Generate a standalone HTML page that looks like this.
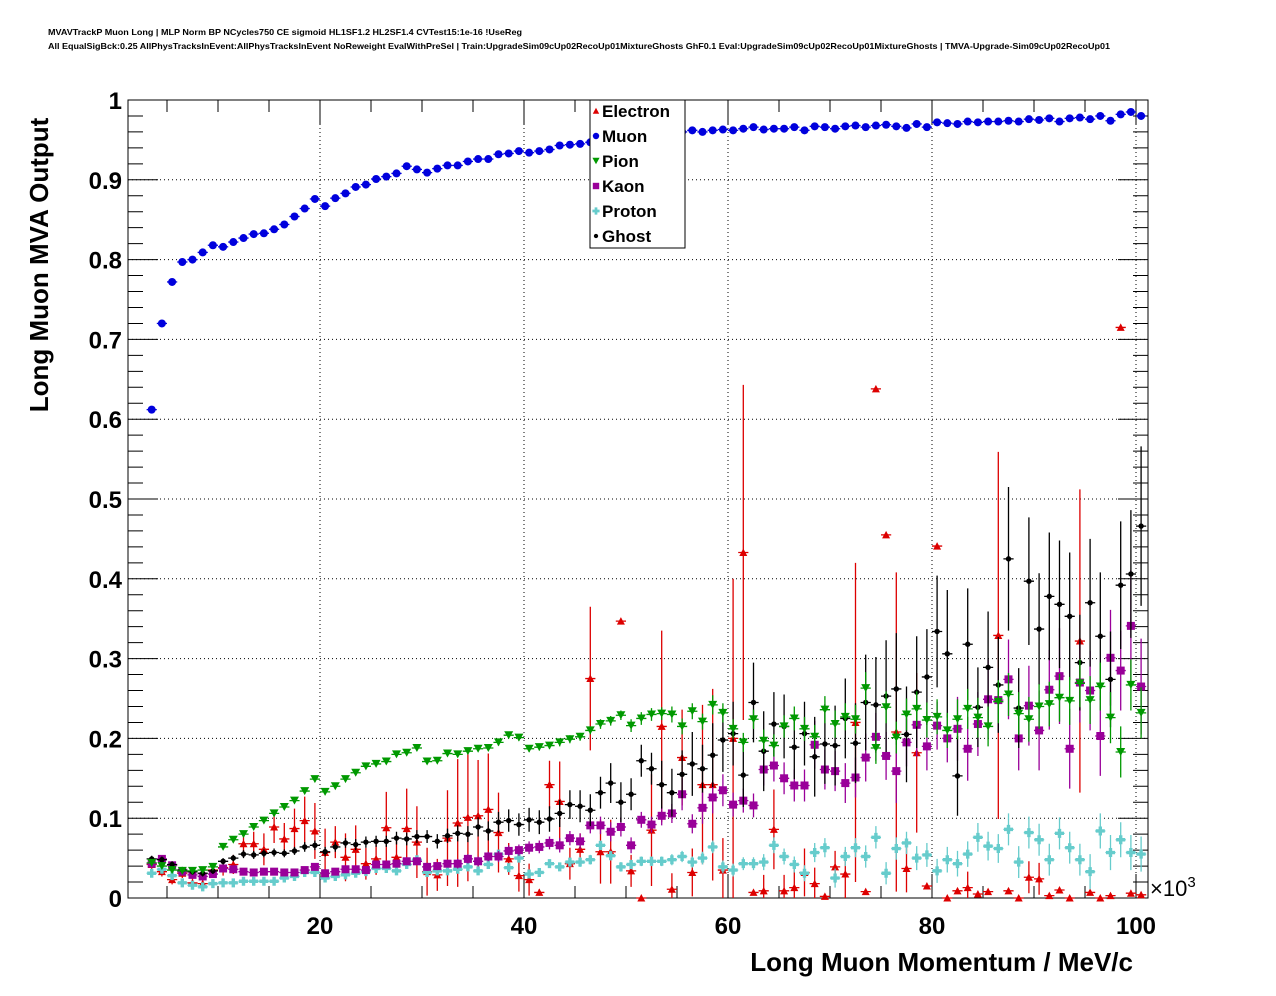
<!DOCTYPE html>
<html><head><meta charset="utf-8"><style>
html,body{margin:0;padding:0;background:#fff;}
svg{display:block;font-family:"Liberation Sans",Arial,sans-serif;}
</style></head><body>
<svg id="chart" width="1276" height="996" viewBox="0 0 1276 996" xmlns="http://www.w3.org/2000/svg">
<rect x="0" y="0" width="1276" height="996" fill="#fff"/>
<text x="48" y="35" font-size="8.5" font-weight="bold" textLength="474" lengthAdjust="spacingAndGlyphs">MVAVTrackP Muon Long | MLP Norm BP NCycles750 CE sigmoid HL1SF1.2 HL2SF1.4 CVTest15:1e-16 !UseReg</text>
<text x="48" y="49" font-size="8.5" font-weight="bold" textLength="1062" lengthAdjust="spacingAndGlyphs">All EqualSigBck:0.25 AllPhysTracksInEvent:AllPhysTracksInEvent NoReweight EvalWithPreSel | Train:UpgradeSim09cUp02RecoUp01MixtureGhosts GhF0.1 Eval:UpgradeSim09cUp02RecoUp01MixtureGhosts | TMVA-Upgrade-Sim09cUp02RecoUp01</text>
<g id="grid"></g>
<g id="axes"></g>
<g id="marks"></g>
<text transform="translate(48,265) rotate(-90)" text-anchor="middle" font-size="26" font-weight="bold">Long Muon MVA Output</text>
<text x="1133" y="971" text-anchor="end" font-size="26" font-weight="bold">Long Muon Momentum / MeV/c</text>
<text x="1150" y="896" font-size="22">×10<tspan font-size="15" dy="-9">3</tspan></text>
<g id="legend"></g>
</svg>
<script>
const binCenters=[3.5,4.5,5.5,6.5,7.5,8.5,9.5,10.5,11.5,12.5,13.5,14.5,15.5,16.5,17.5,18.5,19.5,20.5,21.5,22.5,23.5,24.5,25.5,26.5,27.5,28.5,29.5,30.5,31.5,32.5,33.5,34.5,35.5,36.5,37.5,38.5,39.5,40.5,41.5,42.5,43.5,44.5,45.5,46.5,47.5,48.5,49.5,50.5,51.5,52.5,53.5,54.5,55.5,56.5,57.5,58.5,59.5,60.5,61.5,62.5,63.5,64.5,65.5,66.5,67.5,68.5,69.5,70.5,71.5,72.5,73.5,74.5,75.5,76.5,77.5,78.5,79.5,80.5,81.5,82.5,83.5,84.5,85.5,86.5,87.5,88.5,89.5,90.5,91.5,92.5,93.5,94.5,95.5,96.5,97.5,98.5,99.5,100.5];
const muon=[0.612,0.720,0.772,0.797,0.800,0.809,0.818,0.816,0.822,0.827,0.832,0.833,0.838,0.844,0.854,0.864,0.876,0.867,0.877,0.883,0.891,0.894,0.901,0.904,0.908,0.917,0.913,0.909,0.914,0.918,0.918,0.923,0.926,0.926,0.932,0.933,0.936,0.934,0.936,0.938,0.943,0.944,0.945,0.947,0.95,0.952,0.955,0.957,0.955,0.958,0.96,0.958,0.96,0.962,0.96,0.962,0.963,0.962,0.964,0.966,0.963,0.964,0.964,0.966,0.962,0.967,0.966,0.964,0.967,0.968,0.966,0.968,0.969,0.967,0.965,0.97,0.966,0.972,0.971,0.97,0.973,0.972,0.973,0.973,0.974,0.973,0.976,0.975,0.977,0.973,0.977,0.978,0.976,0.98,0.974,0.982,0.985,0.98];
const pion=[0.044,0.040,0.035,0.034,0.034,0.035,0.039,0.064,0.073,0.080,0.089,0.097,0.106,0.114,0.122,0.134,0.149,0.133,0.140,0.149,0.157,0.165,0.168,0.171,0.180,0.182,0.188,0.171,0.172,0.181,0.180,0.184,0.187,0.188,0.195,0.204,0.201,0.187,0.189,0.191,0.195,0.199,0.202,0.210,0.218,0.222,0.229,0.216,0.225,0.230,0.231,0.230,0.215,0.234,0.221,0.242,0.232,0.212,0.195,0.224,0.197,0.191,0.215,0.225,0.212,0.202,0.236,0.218,0.227,0.224,0.263,0.188,0.239,0.201,0.230,0.237,0.223,0.227,0.210,0.224,0.237,0.226,0.215,0.246,0.255,0.231,0.224,0.240,0.243,0.251,0.247,0.269,0.248,0.265,0.226,0.183,0.267,0.232];
const kaon=[0.043,0.049,0.041,0.033,0.029,0.027,0.030,0.037,0.036,0.033,0.032,0.033,0.033,0.032,0.032,0.035,0.039,0.031,0.033,0.036,0.036,0.035,0.042,0.042,0.043,0.046,0.046,0.039,0.040,0.043,0.043,0.049,0.046,0.052,0.052,0.059,0.060,0.063,0.064,0.069,0.066,0.075,0.071,0.091,0.091,0.083,0.089,0.066,0.098,0.092,0.103,0.106,0.130,0.093,0.113,0.126,0.135,0.117,0.122,0.116,0.161,0.166,0.150,0.141,0.141,0.192,0.161,0.159,0.144,0.151,0.176,0.202,0.178,0.159,0.195,0.217,0.190,0.216,0.200,0.212,0.187,0.218,0.249,0.248,0.274,0.200,0.241,0.210,0.261,0.278,0.187,0.270,0.260,0.203,0.301,0.285,0.341,0.265];
const proton=[0.031,0.036,0.028,0.019,0.016,0.014,0.018,0.019,0.019,0.021,0.021,0.021,0.021,0.025,0.027,0.032,0.032,0.025,0.027,0.029,0.031,0.033,0.037,0.037,0.034,0.042,0.048,0.032,0.034,0.034,0.036,0.039,0.034,0.042,0.055,0.038,0.050,0.030,0.032,0.043,0.039,0.045,0.045,0.048,0.066,0.053,0.039,0.042,0.046,0.046,0.046,0.048,0.052,0.045,0.050,0.064,0.039,0.035,0.043,0.043,0.045,0.066,0.052,0.042,0.031,0.057,0.063,0.025,0.052,0.063,0.052,0.076,0.031,0.062,0.069,0.050,0.054,0.034,0.048,0.043,0.055,0.076,0.065,0.062,0.086,0.045,0.082,0.073,0.048,0.081,0.063,0.048,0.033,0.084,0.057,0.073,0.057,0.055];
const ghost=[0.049,0.048,0.042,0.035,0.033,0.031,0.034,0.046,0.050,0.055,0.054,0.056,0.057,0.056,0.059,0.064,0.066,0.058,0.064,0.069,0.067,0.070,0.071,0.071,0.075,0.074,0.077,0.077,0.071,0.078,0.081,0.080,0.089,0.084,0.095,0.097,0.092,0.098,0.095,0.099,0.106,0.117,0.115,0.110,0.132,0.144,0.120,0.130,0.172,0.162,0.142,0.132,0.155,0.168,0.162,0.179,0.198,0.206,0.154,0.245,0.184,0.218,0.215,0.189,0.206,0.177,0.193,0.191,0.225,0.194,0.245,0.242,0.253,0.262,0.205,0.258,0.277,0.334,0.306,0.153,0.318,0.239,0.289,0.267,0.425,0.238,0.397,0.337,0.378,0.368,0.353,0.295,0.370,0.328,0.274,0.392,0.406,0.466];
const electron=[0.042,0.033,0.023,0.031,0.019,0.018,0.035,0.038,0.042,0.068,0.068,0.061,0.089,0.074,0.087,0.097,0.084,0.057,0.070,0.051,0.061,0.043,0.049,0.088,0.051,0.087,0.070,0.033,0.029,0.075,0.094,0.101,0.103,0.111,0.082,0.049,0.028,0.023,0.007,0.142,0.121,0.043,0.061,0.275,0.058,0.058,0.347,0.034,0.0,0.085,0.215,0.011,0.176,0.032,0.142,0.142,0.035,0.200,0.433,0.007,0.009,0.086,0.009,0.013,0.032,0.018,0.002,0.039,0.030,0.220,0.008,0.638,0.455,0.208,0.037,0.182,0.015,0.441,0.0,0.009,0.013,0.005,0.008,0.329,0.009,0.0,0.026,0.024,0.003,0.010,0.0,0.322,0.007,0.0,0.003,0.715,0.006,0.004];
const electronErr=[0.006,0.006,0.006,0.006,0.006,0.006,0.008,0.01,0.012,0.015,0.015,0.02,0.02,0.02,0.025,0.03,0.035,0.03,0.02,0.03,0.03,0.02,0.02,0.045,0.02,0.05,0.045,0.03,0.02,0.06,0.08,0.08,0.07,0.07,0.05,0.02,0.02,0.02,0.004,0.03,0.05,0.02,0.02,0.09,0.04,0.04,0.003,0.02,0.003,0.07,0.12,0.02,0.06,0.03,0.1,0.12,0.04,0.2,0.21,0.003,0.02,0.05,0.02,0.03,0.03,0.02,0.003,0.02,0.03,0.2,0.003,0.003,0.003,0.2,0.03,0.1,0.003,0.003,0.003,0.003,0.02,0.003,0.003,0.23,0.003,0.003,0.02,0.02,0.003,0.003,0.003,0.19,0.003,0.003,0.003,0.003,0.003,0.003];
const ghostErr=[0.004,0.004,0.004,0.004,0.004,0.004,0.004,0.004,0.004,0.005,0.005,0.005,0.005,0.005,0.005,0.006,0.006,0.006,0.006,0.006,0.007,0.007,0.007,0.007,0.008,0.008,0.008,0.008,0.009,0.009,0.01,0.01,0.012,0.012,0.013,0.014,0.014,0.015,0.015,0.016,0.017,0.018,0.02,0.02,0.02,0.025,0.025,0.02,0.02,0.02,0.03,0.03,0.03,0.04,0.03,0.04,0.04,0.04,0.04,0.05,0.05,0.04,0.04,0.04,0.04,0.05,0.05,0.05,0.05,0.05,0.06,0.06,0.07,0.07,0.06,0.07,0.06,0.07,0.08,0.05,0.07,0.05,0.07,0.06,0.09,0.05,0.08,0.07,0.08,0.08,0.08,0.06,0.08,0.08,0.06,0.08,0.08,0.1];
const kaonErr=[0.003,0.003,0.003,0.003,0.003,0.003,0.003,0.003,0.003,0.003,0.003,0.003,0.003,0.003,0.003,0.003,0.004,0.004,0.004,0.004,0.004,0.004,0.004,0.005,0.005,0.005,0.005,0.005,0.005,0.005,0.006,0.006,0.006,0.006,0.007,0.007,0.007,0.008,0.008,0.008,0.009,0.009,0.01,0.01,0.011,0.012,0.012,0.01,0.01,0.01,0.012,0.012,0.02,0.012,0.02,0.02,0.02,0.015,0.015,0.015,0.02,0.02,0.02,0.02,0.02,0.03,0.025,0.025,0.025,0.025,0.03,0.03,0.03,0.04,0.03,0.04,0.03,0.03,0.03,0.04,0.04,0.04,0.05,0.04,0.05,0.04,0.05,0.05,0.05,0.06,0.05,0.05,0.05,0.05,0.06,0.05,0.07,0.06];
const pionErr=[0.003,0.003,0.003,0.003,0.003,0.003,0.003,0.003,0.003,0.003,0.003,0.003,0.003,0.003,0.003,0.003,0.003,0.003,0.003,0.003,0.003,0.003,0.003,0.003,0.003,0.003,0.003,0.003,0.003,0.003,0.003,0.003,0.003,0.003,0.004,0.004,0.004,0.004,0.004,0.004,0.005,0.005,0.005,0.005,0.006,0.006,0.006,0.008,0.008,0.008,0.008,0.01,0.01,0.01,0.01,0.012,0.012,0.012,0.012,0.012,0.014,0.014,0.014,0.015,0.015,0.015,0.017,0.017,0.017,0.018,0.02,0.02,0.02,0.02,0.02,0.022,0.022,0.022,0.022,0.025,0.025,0.025,0.025,0.027,0.027,0.027,0.028,0.028,0.028,0.03,0.03,0.03,0.03,0.03,0.032,0.032,0.032,0.032];
const protonErr=[0.002,0.002,0.002,0.002,0.002,0.002,0.002,0.002,0.002,0.002,0.002,0.002,0.002,0.002,0.002,0.002,0.002,0.002,0.002,0.002,0.002,0.003,0.003,0.003,0.003,0.003,0.003,0.003,0.003,0.003,0.003,0.004,0.004,0.004,0.004,0.004,0.004,0.005,0.005,0.005,0.005,0.005,0.006,0.006,0.006,0.006,0.006,0.006,0.006,0.006,0.006,0.007,0.007,0.007,0.008,0.008,0.008,0.008,0.008,0.008,0.01,0.01,0.01,0.01,0.01,0.012,0.012,0.012,0.012,0.012,0.014,0.014,0.014,0.014,0.014,0.015,0.015,0.015,0.016,0.016,0.016,0.018,0.018,0.018,0.02,0.02,0.02,0.02,0.02,0.02,0.02,0.02,0.022,0.022,0.022,0.022,0.022,0.022];
const yTicks=[0,0.1,0.2,0.3,0.4,0.5,0.6,0.7,0.8,0.9,1];
const yTickLabels=["0","0.1","0.2","0.3","0.4","0.5","0.6","0.7","0.8","0.9","1"];
const xTicks=[20,40,60,80,100];
const xTickLabels=["20","40","60","80","100"];

const NS="http://www.w3.org/2000/svg";
const L=128,R=1148,T=100,B=898,X0=116,XS=10.2;
const xs=v=>X0+v*XS;
const ys=v=>B-v*(B-T);
function mk(tag,attrs,parent){const e=document.createElementNS(NS,tag);for(const k in attrs)e.setAttribute(k,attrs[k]);parent.appendChild(e);return e;}
const grid=document.getElementById('grid'),axes=document.getElementById('axes'),marks=document.getElementById('marks'),legend=document.getElementById('legend');

yTicks.forEach((v,i)=>{
  if(v>0&&v<1){const g=mk('line',{x1:L,x2:R,y1:ys(v),y2:ys(v),stroke:'#000','stroke-width':1,'stroke-dasharray':'1,3'},grid);
  
  }
  const t=mk('text',{x:122,y:ys(v)+9,'text-anchor':'end','font-size':24,'font-weight':'bold'},axes);
  t.textContent=yTickLabels[i];
  
  
});
xTicks.forEach((v,i)=>{
  if(xs(v)<R-2){const g=mk('line',{x1:xs(v),x2:xs(v),y1:T,y2:B,stroke:'#000','stroke-width':1,'stroke-dasharray':'1,3'},grid);
  
  }
  const t=mk('text',{x:xs(v),y:934,'text-anchor':'middle','font-size':24,'font-weight':'bold'},axes);
  t.textContent=xTickLabels[i];
  
  
});
const frame=mk('rect',{x:L,y:T,width:R-L,height:B-T,fill:'none',stroke:'#000','stroke-width':1},axes);


let tp='';
for(let k=0;k<=50;k++){const v=k*0.02;const len=(k%5===0)?30:15;const y=ys(v);tp+=`M${L},${y}h${len}M${R},${y}h${-len}`;}
for(let v=5;v<=100;v+=5){const len=(v%20===0)?24:12;const x=xs(v);tp+=`M${x},${B}v${-len}M${x},${T}v${len}`;}
const ticks=mk('path',{d:tp,stroke:'#000','stroke-width':1,fill:'none'},axes);



function marker(type,color,x,y,parent,s){
  s=s||1;
  if(type==='tri-up')return mk('path',{d:`M${x-4*s},${y+3.5*s}L${x+4*s},${y+3.5*s}L${x},${y-4*s}Z`,fill:color},parent);
  if(type==='tri-down')return mk('path',{d:`M${x-4.5*s},${y-4*s}L${x+4.5*s},${y-4*s}L${x},${y+4*s}Z`,fill:color},parent);
  if(type==='circle')return mk('circle',{cx:x,cy:y,r:4*s,fill:color},parent);
  if(type==='square')return mk('rect',{x:x-4*s,y:y-4*s,width:8*s,height:8*s,fill:color},parent);
  if(type==='cross')return mk('path',{d:`M${x-1.7*s},${y-4.5*s}h${3.4*s}v${2.8*s}h${2.8*s}v${3.4*s}h${-2.8*s}v${2.8*s}h${-3.4*s}v${-2.8*s}h${-2.8*s}v${-3.4*s}h${2.8*s}Z`,fill:color},parent);
  if(type==='dot')return mk('circle',{cx:x,cy:y,r:2.7*s,fill:color},parent);
}
const series=[
 {name:'electron',label:'Electron',vals:electron,err:electronErr,color:'#dd0000',type:'tri-up'},
 {name:'proton',label:'Proton',vals:proton,err:protonErr,color:'#66cccc',type:'cross'},
 {name:'kaon',label:'Kaon',vals:kaon,err:kaonErr,color:'#990099',type:'square'},
 {name:'ghost',label:'Ghost',vals:ghost,err:ghostErr,color:'#000000',type:'dot'},
 {name:'pion',label:'Pion',vals:pion,err:pionErr,color:'#009900',type:'tri-down'},
 {name:'muon',label:'Muon',vals:muon,err:null,color:'#0000dd',type:'circle'}
];
series.forEach(s=>{
  const g=mk('g',{},marks);
  
  
  s.vals.forEach((v,i)=>{
    const x=xs(binCenters[i]),y=ys(v);
    let d=`M${xs(binCenters[i]-0.5)},${y}H${xs(binCenters[i]+0.5)}`;
    if(s.err){const e=s.err[i];d+=`M${x},${Math.max(T,ys(v+e))}V${Math.min(B,ys(Math.max(0,v-e)))}`;}
    const eb=mk('path',{d:d,stroke:s.color,'stroke-width':1.3,fill:'none'},g);
    
    
    const m=marker(s.type,s.color,x,y,g);
    
    
  });
});
const lb=mk('rect',{x:590,y:100,width:95,height:148,fill:'#fff',stroke:'#000','stroke-width':1},legend);


const order=['electron','muon','pion','kaon','proton','ghost'];
order.forEach((n,i)=>{
  const s=series.find(q=>q.name===n);
  const y=111+25*i;
  const m=marker(s.type,s.color,596,y,legend,0.8);
  
  
  const t=mk('text',{x:602,y:y+6,'font-size':17,'font-weight':'bold'},legend);
  t.textContent=s.label;
  
  
});
</script>
</body></html>
